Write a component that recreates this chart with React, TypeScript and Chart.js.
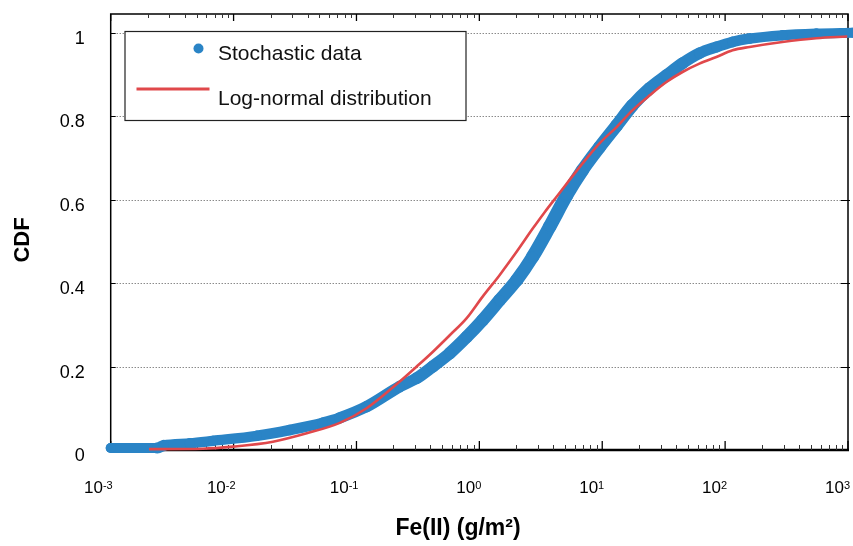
import React, { useEffect, useRef } from "react";
import { Chart, registerables } from "chart.js";

Chart.register(...registerables);

// ---- Data ----
const stochasticFe = [0.001, 0.0024, 0.0027, 0.0044, 0.0068, 0.0155, 0.0287, 0.0532, 0.0731, 0.121, 0.225, 0.309, 0.417, 0.574, 0.789, 1.06, 1.46, 2.01, 2.71, 3.73, 5.13, 6.92, 9.51, 13.1, 17.6, 24.3, 33.3, 45.0, 61.8, 84.9, 115, 158, 292, 552, 1084];
const stochasticCdf = [0.005, 0.005, 0.011, 0.016, 0.022, 0.034, 0.048, 0.065, 0.077, 0.104, 0.152, 0.172, 0.2, 0.232, 0.271, 0.311, 0.359, 0.407, 0.463, 0.535, 0.61, 0.671, 0.726, 0.778, 0.826, 0.867, 0.898, 0.927, 0.951, 0.966, 0.978, 0.986, 0.994, 0.998, 1.0];

const lognormalFe = [0.00205, 0.00562, 0.00986, 0.0209, 0.0394, 0.0731, 0.121, 0.225, 0.309, 0.417, 0.574, 0.789, 1.06, 1.46, 2.01, 2.71, 3.40, 4.25, 6.92, 9.51, 13.1, 17.6, 24.3, 33.3, 45.0, 61.8, 84.9, 115, 158, 292, 552, 986];
const lognormalCdf = [0.002, 0.003, 0.008, 0.02, 0.04, 0.065, 0.1, 0.164, 0.2, 0.235, 0.275, 0.316, 0.367, 0.419, 0.475, 0.53, 0.57, 0.607, 0.687, 0.735, 0.774, 0.814, 0.85, 0.882, 0.906, 0.926, 0.942, 0.958, 0.966, 0.978, 0.987, 0.991];

const xTickValues = [0.001, 0.01, 0.1, 1, 10, 100, 1000];
const xTickExponents = ["-3", "-2", "-1", "0", "1", "2", "3"];
const xMinorMultipliers = [2, 3, 4, 5, 6, 7, 8, 9];
const yTickValues = [0, 0.2, 0.4, 0.6, 0.8, 1];

const seriesNames = ["Stochastic data", "Log-normal distribution"];
const xTitle = "Fe(II) (g/m²)";
const yTitle = "CDF";

const BLUE = "#2a84c6";
const RED = "#e0484b";
const FONT = "'Liberation Sans', Arial, Helvetica, sans-serif";

const decorPlugin = {
  id: "decor",
  beforeDatasetsDraw(chart: any) {
    const { ctx, chartArea: a, scales } = chart;
    const xs = scales.x;
    const ys = scales.y;
    ctx.save();
    // dotted horizontal grid lines
    ctx.strokeStyle = "#555";
    ctx.lineWidth = 1;
    ctx.setLineDash([1, 2]);
    yTickValues.forEach((v) => {
      if (v === 0) return;
      const py = Math.round(ys.getPixelForValue(v)) + 0.5;
      ctx.beginPath();
      ctx.moveTo(a.left, py);
      ctx.lineTo(a.right, py);
      ctx.stroke();
    });
    ctx.setLineDash([]);
    // frame
    ctx.strokeStyle = "#000";
    ctx.lineWidth = 1.5;
    ctx.beginPath();
    ctx.moveTo(a.left, a.bottom);
    ctx.lineTo(a.left, a.top);
    ctx.lineTo(a.right, a.top);
    ctx.lineTo(a.right, a.bottom);
    ctx.stroke();
    ctx.lineWidth = 2.5;
    ctx.beginPath();
    ctx.moveTo(a.left - 1, a.bottom);
    ctx.lineTo(a.right + 1, a.bottom);
    ctx.stroke();
    // x ticks (inward, bottom and top)
    xTickValues.forEach((v, i) => {
      const px = xs.getPixelForValue(v);
      ctx.strokeStyle = "#000";
      ctx.lineWidth = 1.3;
      ctx.beginPath();
      ctx.moveTo(px, a.bottom);
      ctx.lineTo(px, a.bottom - 9);
      ctx.moveTo(px, a.top);
      ctx.lineTo(px, a.top + 7);
      ctx.stroke();
      if (i < xTickValues.length - 1) {
        ctx.strokeStyle = "#333";
        ctx.lineWidth = 1;
        xMinorMultipliers.forEach((m) => {
          const mx = Math.round(xs.getPixelForValue(v * m)) + 0.5;
          ctx.beginPath();
          ctx.moveTo(mx, a.bottom);
          ctx.lineTo(mx, a.bottom - 5);
          ctx.moveTo(mx, a.top);
          ctx.lineTo(mx, a.top + 4);
          ctx.stroke();
        });
      }
    });
    // y ticks (inward, left and right)
    ctx.strokeStyle = "#000";
    ctx.lineWidth = 1;
    yTickValues.forEach((v) => {
      if (v === 0) return;
      const py = Math.round(ys.getPixelForValue(v)) + 0.5;
      ctx.beginPath();
      ctx.moveTo(a.left, py);
      ctx.lineTo(a.left + 5, py);
      ctx.moveTo(a.right + 2, py);
      ctx.lineTo(a.right - 7, py);
      ctx.stroke();
    });
    ctx.restore();
  },
  afterDraw(chart: any) {
    const { ctx, scales } = chart;
    const xs = scales.x;
    ctx.save();
    // x tick labels with superscripts
    ctx.fillStyle = "#000";
    ctx.textBaseline = "alphabetic";
    ctx.textAlign = "left";
    xTickValues.forEach((v, i) => {
      const px = xs.getPixelForValue(v);
      ctx.font = `17px ${FONT}`;
      const wb = ctx.measureText("10").width;
      ctx.font = `11px ${FONT}`;
      const we = ctx.measureText(xTickExponents[i]).width;
      const start = px + 2 - wb - we;
      ctx.font = `17px ${FONT}`;
      ctx.fillText("10", start, 493);
      ctx.font = `11px ${FONT}`;
      ctx.fillText(xTickExponents[i], start + wb, 489);
    });
    // axis titles
    ctx.font = `bold 23px ${FONT}`;
    ctx.textAlign = "center";
    ctx.textBaseline = "middle";
    ctx.fillText(xTitle, 458, 529);
    ctx.save();
    ctx.translate(23, 240);
    ctx.rotate(-Math.PI / 2);
    ctx.font = `bold 22px ${FONT}`;
    ctx.fillText(yTitle, 0, 0);
    ctx.restore();
    // legend box
    const lx = 125, ly = 31.5, lw = 341, lh = 89;
    ctx.fillStyle = "#fff";
    ctx.fillRect(lx, ly, lw, lh);
    ctx.strokeStyle = "#222";
    ctx.lineWidth = 1.2;
    ctx.strokeRect(lx, ly, lw, lh);
    ctx.fillStyle = BLUE;
    ctx.beginPath();
    ctx.arc(198.5, 48.5, 5, 0, Math.PI * 2);
    ctx.fill();
    ctx.strokeStyle = RED;
    ctx.lineWidth = 3;
    ctx.beginPath();
    ctx.moveTo(136.5, 89);
    ctx.lineTo(209.5, 89);
    ctx.stroke();
    ctx.fillStyle = "#111";
    ctx.font = `21px ${FONT}`;
    ctx.textAlign = "left";
    ctx.textBaseline = "middle";
    ctx.fillText(seriesNames[0], 218, 54);
    ctx.fillText(seriesNames[1], 218, 99);
    ctx.restore();
  },
};

// band thickness grows with steepness (marker scatter is wider where the CDF rises fast)
const bandWidth = (c: any) => {
  const dx = Math.abs(c.p1.x - c.p0.x);
  const dy = Math.abs(c.p1.y - c.p0.y);
  const ang = Math.atan2(dy, dx) / (Math.PI / 2);
  return 10 + 5 * ang;
};

export default function App() {
  const ref = useRef<HTMLCanvasElement | null>(null);
  useEffect(() => {
    if (!ref.current) return;
    const chart = new Chart(ref.current, {
      type: "scatter",
      data: {
        datasets: [
          {
            label: seriesNames[1],
            data: lognormalFe.map((x, i) => ({ x, y: lognormalCdf[i] })),
            showLine: true,
            borderColor: RED,
            borderWidth: 2.6,
            pointRadius: 0,
            cubicInterpolationMode: "monotone",
            clip: false,
            order: 0,
          },
          {
            label: seriesNames[0],
            data: stochasticFe.map((x, i) => ({ x, y: stochasticCdf[i] })),
            showLine: true,
            borderColor: BLUE,
            backgroundColor: BLUE,
            borderWidth: 11,
            borderJoinStyle: "round",
            borderCapStyle: "round",
            segment: { borderWidth: bandWidth },
            pointRadius: 5,
            pointBorderWidth: 0,
            pointBackgroundColor: BLUE,
            cubicInterpolationMode: "monotone",
            clip: false,
            order: 1,
          },
        ] as any,
      },
      options: {
        animation: false,
        responsive: false,
        devicePixelRatio: 1,
        layout: { padding: { left: 0, top: 14, right: 4.7, bottom: 0 } },
        plugins: { legend: { display: false }, tooltip: { enabled: false } },
        events: [],
        scales: {
          x: {
            type: "logarithmic",
            min: 0.001,
            max: 1000,
            grid: { display: false, drawTicks: false },
            border: { display: false },
            ticks: { display: false },
            afterFit: (s: any) => {
              s.height = 96;
              s.paddingLeft = 0;
              s.paddingRight = 0;
            },
          },
          y: {
            type: "linear",
            min: 0,
            max: 1.045,
            grid: { display: false, drawTicks: false },
            border: { display: false },
            afterBuildTicks: (s: any) => {
              s.ticks = yTickValues.map((v) => ({ value: v }));
            },
            ticks: {
              color: "#000",
              padding: 26,
              labelOffset: 6,
              font: { family: FONT, size: 18 },
              callback: (v: any) => String(v),
            },
            afterFit: (s: any) => {
              s.width = 110.7;
              s.paddingTop = 0;
              s.paddingBottom = 0;
            },
          },
        },
      } as any,
      plugins: [decorPlugin],
    });
    return () => chart.destroy();
  }, []);
  return (
    <div style={{ position: "absolute", left: 0, top: 0, width: 853, height: 546, background: "#fff" }}>
      <canvas ref={ref} width={853} height={546} style={{ display: "block" }} />
    </div>
  );
}
